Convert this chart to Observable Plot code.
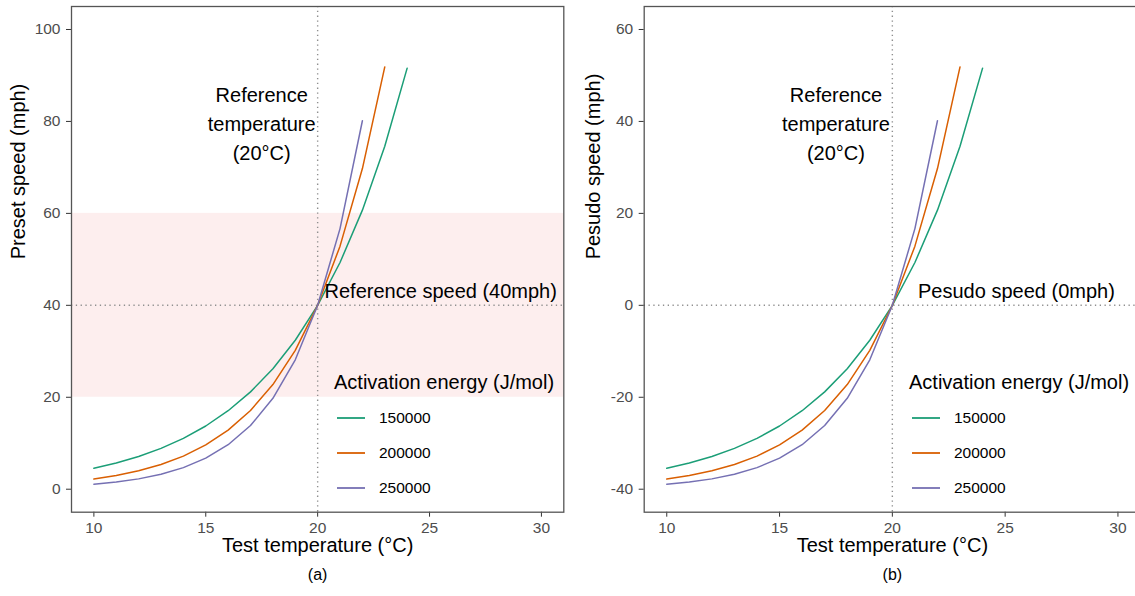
<!DOCTYPE html>
<html>
<head>
<meta charset="utf-8">
<script src="https://cdn.jsdelivr.net/npm/d3@7"></script>
<script src="https://cdn.jsdelivr.net/npm/@observablehq/plot@0.6"></script>
<style>
  body { margin: 0; background: #fff; }
  #wrap { position: relative; width: 1135px; height: 596px; overflow: hidden; background: #fff;
          font-family: "Liberation Sans", Arial, sans-serif; }
  #wrap svg.plot { position: absolute; top: 0; overflow: visible; }
  g[aria-label="x-axis tick label"], g[aria-label="y-axis tick label"] { fill: #4d4d4d; }
  g[aria-label="x-axis tick"], g[aria-label="y-axis tick"] { stroke: #333; }
  .leg { position: absolute; white-space: nowrap; color: #000; }
  .legtitle { font-size: 20px; line-height: 24px; }
  .leglab { font-size: 15.5px; line-height: 20px; }
  .legsw { position: absolute; }
</style>
</head>
<body>
<div id="wrap"></div>
<script>
// ---- data ----
const temps = [10, 11, 12, 13, 14, 15, 16, 17, 18, 19, 20, 21, 22, 23, 24];
const energies = ["150000", "200000", "250000"];
const colors = ["#1B9E77", "#D95F02", "#7570B3"];

// Preset speed (mph), panel (a)
const preset150 = [4.55, 5.69, 7.12, 8.88, 11.06, 13.75, 17.07, 21.17, 26.21, 32.40, 40, 49.31, 60.70, 74.61, 91.59];
const preset200 = [2.21, 2.97, 4.00, 5.37, 7.20, 9.63, 12.86, 17.12, 22.76, 30.21, 40, 52.87, 69.75, 91.85];
const preset250 = [1.07, 1.55, 2.25, 3.25, 4.69, 6.75, 9.68, 13.85, 19.77, 28.16, 40, 56.69, 80.15];

// Pseudo speed (mph), panel (b)
const pseudo150 = [-35.45, -34.31, -32.88, -31.12, -28.94, -26.25, -22.93, -18.83, -13.79, -7.60, 0, 9.31, 20.70, 34.61, 51.59];
const pseudo200 = [-37.79, -37.03, -36.00, -34.63, -32.80, -30.37, -27.14, -22.88, -17.24, -9.79, 0, 12.87, 29.75, 51.85];
const pseudo250 = [-38.93, -38.45, -37.75, -36.75, -35.31, -33.25, -30.32, -26.15, -20.23, -11.84, 0, 16.69, 40.15];

const xTicks = [10, 15, 20, 25, 30];
const yTicksA = [0, 20, 40, 60, 80, 100];
const yTicksB = [-40, -20, 0, 20, 40, 60];
const bandA = [{y1: 20, y2: 60}];
const refTemp = 20;
const refSpeedA = 40;
const refSpeedB = 0;

function rows(series) {
  const out = [];
  series.forEach((vals, i) => vals.forEach((v, j) => out.push({t: temps[j], v, e: energies[i]})));
  return out;
}
const dataA = rows([preset150, preset200, preset250]);
const dataB = rows([pseudo150, pseudo200, pseudo250]);

const FONT = '"Liberation Sans", Arial, sans-serif';
const wrap = document.getElementById("wrap");
const fmt = d => String(d);

function panel(opts) {
  const marks = [];
  if (opts.band) marks.push(Plot.rect(opts.band, {y1: "y1", y2: "y2", fill: "#fdeeee"}));
  marks.push(
    Plot.ruleX([refTemp], {stroke: "#8f8f8f", strokeWidth: 1.4, strokeDasharray: "1.3,3.5"}),
    Plot.ruleY([opts.refSpeed], {stroke: "#8f8f8f", strokeWidth: 1.4, strokeDasharray: "1.3,3.5"}),
    Plot.line(opts.data, {x: "t", y: "v", z: "e", stroke: "e", strokeWidth: 1.5}),
    Plot.text(["Reference\ntemperature\n(20°C)"], {x: 17.5, y: opts.refTextY, fontSize: 20, lineHeight: 1.45, fill: "#000"}),
    Plot.text([opts.speedText], {x: 25.5, y: opts.refSpeed + 3, fontSize: 20, fill: "#000"}),
    Plot.axisX({ticks: xTicks, tickFormat: fmt, tickSize: 5, tickPadding: 5, fontSize: 15.5, label: null}),
    Plot.axisY({ticks: opts.yTicks, tickFormat: fmt, tickSize: 5, tickPadding: 6, fontSize: 15.5, label: null}),
    Plot.text([opts.xLabel], {frameAnchor: "bottom", dy: 40, fontSize: 20, fill: "#000"}),
    Plot.text([opts.caption], {frameAnchor: "bottom", dy: 68, fontSize: 16, fill: "#000"}),
    Plot.text([opts.yLabel], {frameAnchor: "left", dx: opts.yLabelDx, rotate: -90, fontSize: 20, fill: "#000"}),
    Plot.frame({stroke: "#555", strokeWidth: 1.3})
  );
  const svg = Plot.plot({
    width: opts.width, height: 596,
    marginLeft: opts.marginLeft, marginRight: opts.marginRight, marginTop: 6, marginBottom: 84.3,
    style: {fontFamily: FONT, background: "transparent", overflow: "visible"},
    x: {domain: [9, 31]},
    y: {domain: opts.yDomain},
    color: {domain: energies, range: colors},
    marks
  });
  svg.classList.add("plot");
  svg.style.left = opts.left + "px";
  wrap.appendChild(svg);

  // legend (inside panel)
  const L = opts.legend;
  const title = document.createElement("div");
  title.className = "leg legtitle";
  title.style.left = L.titleX + "px";
  title.style.top = (L.titleY - 12) + "px";
  title.textContent = "Activation energy (J/mol)";
  wrap.appendChild(title);
  energies.forEach((e, i) => {
    const y = L.itemY[i];
    const sw = d3.create("svg")
      .attr("class", "legsw")
      .attr("width", 30).attr("height", 10)
      .style("left", (L.lineX - 1) + "px")
      .style("top", (y - 5) + "px");
    sw.append("line")
      .attr("x1", 1).attr("x2", 29).attr("y1", 5).attr("y2", 5)
      .attr("stroke", colors[i]).attr("stroke-width", 1.8);
    wrap.appendChild(sw.node());
    const lab = document.createElement("div");
    lab.className = "leg leglab";
    lab.style.left = L.labelX + "px";
    lab.style.top = (y - 10) + "px";
    lab.textContent = e;
    wrap.appendChild(lab);
  });
}

panel({
  data: dataA, band: bandA, refSpeed: refSpeedA, refTextY: 80,
  speedText: "Reference speed (40mph)",
  yDomain: [-5, 105], yTicks: yTicksA,
  xLabel: "Test temperature (°C)", caption: "(a)", yLabel: "Preset speed (mph)", yLabelDx: -53,
  width: 575, left: 0, marginLeft: 71, marginRight: 11.7,
  legend: {titleX: 334, titleY: 382, lineX: 337, labelX: 379, itemY: [418, 453, 488]}
});

panel({
  data: dataB, band: null, refSpeed: refSpeedB, refTextY: 40,
  speedText: "Pesudo speed (0mph)",
  yDomain: [-45, 65], yTicks: yTicksB,
  xLabel: "Test temperature (°C)", caption: "(b)", yLabel: "Pesudo speed (mph)", yLabelDx: -51,
  width: 582, left: 570, marginLeft: 73.7, marginRight: 12,
  legend: {titleX: 909, titleY: 382, lineX: 912, labelX: 954, itemY: [418, 453, 488]}
});
</script>
</body>
</html>
